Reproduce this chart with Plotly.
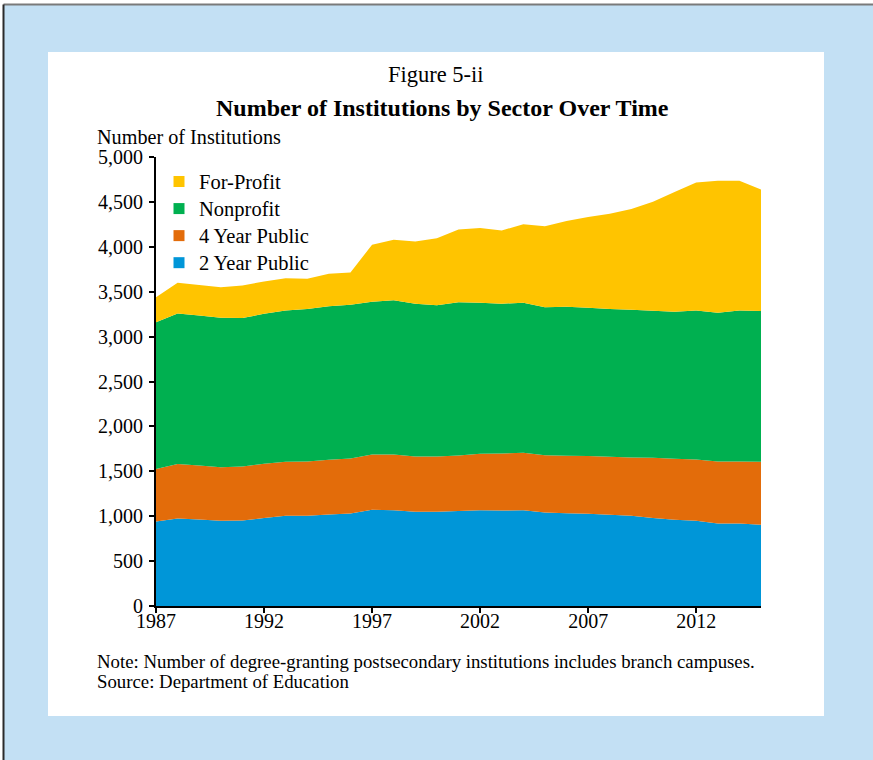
import plotly.graph_objects as go

# Degree-granting postsecondary institutions by sector, 1987-2015
years = list(range(1987, 2016))
two_year_public = [942, 975, 963, 949, 953, 979, 1004, 1004, 1018, 1030, 1071, 1067, 1049, 1049,
                   1057, 1067, 1063, 1067, 1041, 1034, 1027, 1016, 1004, 979, 960, 949, 919, 919, 905]
four_year_public = [585, 605, 602, 597, 601, 605, 602, 606, 610, 612, 616, 620, 616, 616,
                    620, 628, 636, 639, 639, 639, 642, 646, 650, 671, 680, 683, 691, 691, 701]
nonprofit = [1633, 1677, 1671, 1664, 1652, 1670, 1684, 1696, 1710, 1712, 1701, 1719, 1701, 1685,
             1705, 1682, 1667, 1671, 1648, 1659, 1652, 1644, 1645, 1638, 1637, 1658, 1655, 1680, 1678]
for_profit = [278, 343, 340, 340, 364, 360, 360, 338, 362, 360, 635, 672, 694, 746,
              811, 831, 816, 875, 902, 954, 1010, 1062, 1123, 1213, 1332, 1426, 1470, 1445, 1355]

series = [
    ("2 Year Public", two_year_public, "#0096D8"),
    ("4 Year Public", four_year_public, "#E36C0A"),
    ("Nonprofit", nonprofit, "#00B050"),
    ("For-Profit", for_profit, "#FFC400"),
]
x_ticks = [1987, 1992, 1997, 2002, 2007, 2012]

FONT = "Liberation Serif"
FRAME_BLUE = "#C3E0F4"
W, H = 873, 760
PL, PR, PT, PB = 156, 761, 157, 606


def px(x):
    return (x - PL) / (PR - PL)


def py(y):
    return (PB - y) / (PB - PT)


fig = go.Figure()

# stacked areas, bottom to top
for name, vals, color in series:
    fig.add_trace(go.Scatter(
        x=years, y=vals, name=name, stackgroup="sectors", mode="none",
        fillcolor=color, showlegend=False, hoverinfo="x+y+name",
    ))

# legend entries drawn as square swatches, top entry first
for name, vals, color in reversed(series):
    fig.add_trace(go.Scatter(
        x=[None], y=[None], mode="markers",
        name=f"<span style='font-size:20.5px'>{name}</span>",
        marker=dict(symbol="square", size=11, color=color),
    ))

tick_font = dict(family=FONT, size=20, color="black")

fig.update_layout(
    width=W, height=H,
    margin=dict(l=PL, r=W - PR, t=PT, b=H - PB, pad=0),
    paper_bgcolor="white",
    plot_bgcolor="white",
    font=dict(family=FONT, size=20, color="black"),
    showlegend=True,
    legend=dict(
        x=px(159), y=py(163), xanchor="left", yanchor="top",
        traceorder="normal",
        bgcolor="rgba(0,0,0,0)", borderwidth=0,
        font=dict(family=FONT, size=18.5, color="black"),
    ),
    xaxis=dict(
        range=[1987, 2015], tickvals=x_ticks, showgrid=False, zeroline=False,
        showline=True, linecolor="black", linewidth=2,
        ticks="outside", ticklen=5, tickwidth=1.5, tickcolor="black",
        tickfont=tick_font, ticklabelstandoff=-9,
    ),
    yaxis=dict(
        range=[0, 5000], dtick=500, tickformat=",", showgrid=False, zeroline=False,
        showline=True, linecolor="black", linewidth=2,
        ticks="outside", ticklen=5, tickwidth=1.5, tickcolor="black",
        tickfont=tick_font, ticklabelstandoff=2,
    ),
    shapes=[
        # light blue frame
        dict(type="rect", xref="paper", yref="paper", layer="below",
             x0=px(3.5), x1=px(W + 30), y0=py(H + 30), y1=py(4.5),
             fillcolor=FRAME_BLUE, line=dict(width=0)),
        # frame outline along the top and left edges
        dict(type="line", xref="paper", yref="paper", layer="below",
             x0=px(3.5), x1=px(W + 30), y0=py(4.5), y1=py(4.5),
             line=dict(color="#7a7a7a", width=2)),
        dict(type="line", xref="paper", yref="paper", layer="below",
             x0=px(3.5), x1=px(3.5), y0=py(H + 30), y1=py(4.5),
             line=dict(color="#2a2a2a", width=2)),
        # white chart panel
        dict(type="rect", xref="paper", yref="paper", layer="below",
             x0=px(48), x1=px(824), y0=py(716), y1=py(52),
             fillcolor="white", line=dict(width=0)),
    ],
    annotations=[
        dict(text="Figure 5-ii", x=px(436), y=py(75), xref="paper", yref="paper",
             xanchor="center", yanchor="middle", showarrow=False,
             font=dict(family=FONT, size=22.5, color="black")),
        dict(text="<b>Number of Institutions by Sector Over Time</b>", x=px(442), y=py(108),
             xref="paper", yref="paper", xanchor="center", yanchor="middle", showarrow=False,
             font=dict(family=FONT, size=24, color="black")),
        dict(text="Number of Institutions", x=px(95), y=py(137), xref="paper", yref="paper",
             xanchor="left", yanchor="middle", showarrow=False,
             font=dict(family=FONT, size=20.2, color="black")),
        dict(text="Note: Number of degree-granting postsecondary institutions includes branch campuses.",
             x=px(95), y=py(661), xref="paper", yref="paper", xanchor="left", yanchor="middle",
             showarrow=False, font=dict(family=FONT, size=18.8, color="black")),
        dict(text="Source: Department of Education",
             x=px(95), y=py(681), xref="paper", yref="paper", xanchor="left", yanchor="middle",
             showarrow=False, font=dict(family=FONT, size=18.8, color="black")),
    ],
)

fig.write_html("out.html")
